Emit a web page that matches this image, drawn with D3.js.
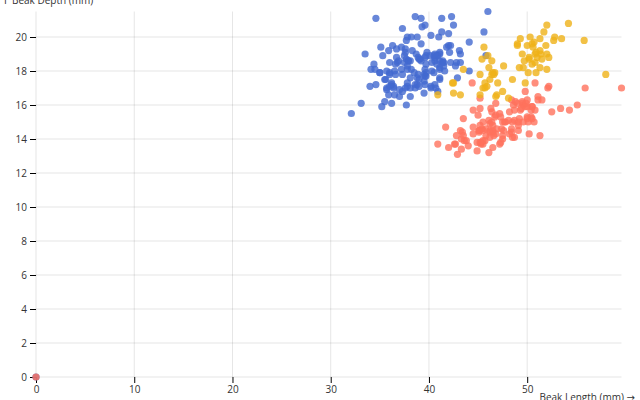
<!DOCTYPE html>
<html>
<head>
<meta charset="utf-8">
<script src="https://cdn.jsdelivr.net/npm/d3@7"></script>
<style>
  body { margin: 0; background: #fff; }
  svg { font-family: "Open Sans", "Noto Sans", "DejaVu Sans", sans-serif; font-size: 10px; }
</style>
</head>
<body>
<div id="chart"></div>
<script>
// species, in the order they are drawn
var species = ["Adelie", "Gentoo", "Chinstrap"];
var speciesColors = ["#4269d0", "#ff725c", "#efb118"];

// missing measurements show up at 0
var adelieLength = [39.1,39.5,40.3,0,36.7,39.3,38.9,39.2,34.1,42.0,37.8,37.8,41.1,38.6,34.6,36.6,38.7,42.5,34.4,46.0,
  37.8,37.7,35.9,38.2,38.8,35.3,40.6,40.5,37.9,40.5,39.5,37.2,39.5,40.9,36.4,39.2,38.8,42.2,37.6,39.8,
  36.5,40.8,36.0,44.1,37.0,39.6,41.1,37.5,36.0,42.3,39.6,40.1,35.0,42.0,34.5,41.4,39.0,40.6,36.5,37.6,
  35.7,41.3,37.6,41.1,36.4,41.6,35.5,41.1,35.9,41.8,33.5,39.7,39.6,45.8,35.5,42.8,40.9,37.2,36.2,42.1,
  34.6,42.9,36.7,35.1,37.3,41.3,36.3,36.9,38.3,38.9,35.7,41.1,34.0,39.6,36.2,40.8,38.1,40.3,33.1,43.2,
  35.0,41.0,37.7,37.8,37.9,39.7,38.6,38.2,38.1,43.2,38.1,45.6,39.7,42.2,39.6,42.7,38.6,37.3,35.7,41.1,
  36.2,37.7,40.2,41.4,35.2,40.6,38.8,41.5,39.0,44.1,38.5,43.1,36.8,37.5,38.1,41.1,35.6,40.2,37.0,39.7,
  40.2,40.6,32.1,40.7,37.3,39.0,39.2,36.6,36.0,37.8,36.0,41.5];
var adelieDepth = [18.7,17.4,18.0,0,19.3,20.6,17.8,19.6,18.1,20.2,17.1,17.3,17.6,21.2,21.1,17.8,19.0,20.7,18.4,21.5,
  18.3,18.7,19.2,18.1,17.2,18.9,18.6,17.9,18.6,18.9,16.7,18.1,17.8,18.9,17.0,21.1,20.0,18.5,19.3,19.1,
  18.0,18.4,18.5,19.7,16.9,18.8,19.0,18.9,17.9,21.2,17.7,18.9,17.9,19.5,18.1,18.6,17.5,18.8,16.6,19.1,
  16.9,21.1,17.0,18.2,17.1,18.0,16.2,19.1,16.6,19.4,19.0,18.4,17.2,18.9,17.5,18.5,16.8,19.4,16.1,19.1,
  17.2,17.6,18.8,19.4,17.8,20.3,19.5,18.6,19.2,18.8,18.0,18.1,17.1,18.1,17.3,18.9,18.6,18.5,16.1,18.5,
  17.9,20.0,16.0,20.0,18.6,18.9,17.2,20.0,17.0,19.0,16.5,20.3,17.7,19.5,20.7,18.3,17.0,20.5,17.0,18.6,
  17.2,19.8,17.0,18.5,15.9,19.0,17.6,18.3,17.1,18.0,17.9,19.2,18.5,18.5,17.6,17.5,17.5,20.1,16.5,17.9,
  17.1,17.2,15.5,17.0,16.8,18.7,18.6,18.4,17.8,18.1,17.1,18.5];

var gentooLength = [46.1,50.0,48.7,50.0,47.6,46.5,45.4,46.7,43.3,46.8,40.9,49.0,45.5,48.4,45.8,49.3,42.0,49.2,46.2,48.7,
  50.2,45.1,46.5,46.3,42.9,46.1,44.5,47.8,48.2,50.0,47.3,42.8,45.1,59.6,49.1,48.4,42.6,44.4,44.0,48.7,
  42.7,49.6,45.3,49.6,50.5,43.6,45.5,50.5,44.9,45.2,46.6,48.5,45.1,50.1,46.5,45.0,43.8,45.5,43.2,50.4,
  45.3,46.2,45.7,54.3,45.8,49.8,46.2,49.5,43.5,50.7,47.7,46.4,48.2,46.5,46.4,48.6,47.5,51.1,45.2,45.2,
  49.1,52.5,47.4,50.0,44.9,50.8,43.4,51.3,47.5,52.1,47.5,52.2,45.5,49.5,44.5,50.8,49.4,46.9,48.4,51.1,
  48.5,55.9,47.2,49.1,47.3,46.8,41.7,53.4,43.3,48.1,50.5,49.8,43.5,51.5,46.2,55.1,44.5,48.8,47.2,0,
  46.8,50.4,45.2,49.9];
var gentooDepth = [13.2,16.3,14.1,15.2,14.5,13.5,14.6,15.3,13.4,15.4,13.7,16.1,13.7,14.6,14.6,15.7,13.5,15.2,14.5,15.1,
  14.3,14.5,14.5,15.8,13.1,15.1,14.3,15.0,14.3,15.3,15.3,14.2,14.5,17.0,14.8,16.3,13.7,17.3,13.6,15.7,
  13.7,16.0,13.7,15.0,15.9,13.9,13.9,15.9,13.3,15.8,14.2,14.1,14.4,15.0,14.4,15.4,13.9,15.0,14.5,15.3,
  13.8,14.9,13.9,15.7,14.2,16.8,14.4,16.2,14.2,15.0,15.0,15.6,15.6,14.8,15.0,16.0,14.2,16.3,13.8,16.4,
  14.5,15.6,14.6,15.9,13.8,17.3,14.4,14.2,14.0,17.0,15.0,17.1,14.5,16.1,14.7,15.7,15.8,14.6,14.4,16.5,
  15.0,17.0,15.5,15.0,13.8,16.1,14.7,15.8,14.0,15.1,15.2,15.9,15.2,16.3,14.1,16.0,15.7,16.2,13.7,0,
  14.3,15.7,14.8,16.1];

var chinstrapLength = [46.5,50.0,51.3,45.4,52.7,45.2,46.1,51.3,46.0,51.3,46.6,51.7,47.0,52.0,45.9,50.5,50.3,58.0,46.4,49.2,
  42.4,48.5,43.2,50.6,46.7,52.0,50.5,49.5,46.4,52.8,40.9,54.2,42.5,51.0,49.7,47.5,47.6,52.0,46.9,53.5,
  49.0,46.2,50.9,45.5,50.9,50.8,50.1,49.0,51.5,49.8,48.1,51.4,45.7,50.7,42.5,52.2,45.2,49.3,50.2,45.6,
  51.9,46.8,45.7,55.8,43.5,49.6,50.8,50.2];
var chinstrapDepth = [17.9,19.5,19.2,18.7,19.8,17.8,18.2,18.2,18.9,19.9,17.8,20.3,17.3,18.1,17.1,19.6,20.0,17.8,18.6,18.2,
  17.3,17.5,16.6,19.4,17.9,19.0,18.4,19.0,17.8,20.0,16.6,20.8,16.7,18.8,18.6,16.8,18.3,20.7,16.6,19.9,
  19.5,17.5,19.1,17.0,17.9,18.5,17.9,19.6,18.7,17.3,16.4,19.0,17.3,19.7,17.3,18.8,16.6,19.9,18.8,19.4,
  19.5,16.5,17.0,19.8,18.1,18.2,19.0,18.7];

var xTicks = [0, 10, 20, 30, 40, 50];
var yTicks = [0, 2, 4, 6, 8, 10, 12, 14, 16, 18, 20];

var width = 640, height = 400;
var marginLeft = 36, marginRight = 18.5, marginTop = 11.5, marginBottom = 23;

var lengths = [adelieLength, gentooLength, chinstrapLength];
var depths = [adelieDepth, gentooDepth, chinstrapDepth];

var points = [];
species.forEach(function(s, i) {
  lengths[i].forEach(function(v, j) {
    points.push({ species: s, length: v, depth: depths[i][j] });
  });
});

var x = d3.scaleLinear()
  .domain([0, d3.max(points, function(d) { return d.length; })])
  .range([marginLeft, width - marginRight]);

var y = d3.scaleLinear()
  .domain([0, d3.max(points, function(d) { return d.depth; })])
  .range([height - marginBottom, marginTop]);

var color = d3.scaleOrdinal().domain(species).range(speciesColors);

var svg = d3.select("#chart")
  .append("svg")
  .attr("width", width)
  .attr("height", height);

// grid
svg.append("g")
  .selectAll("line")
  .data(xTicks)
  .enter()
  .append("line")
    .attr("x1", function(d) { return x(d); })
    .attr("x2", function(d) { return x(d); })
    .attr("y1", marginTop)
    .attr("y2", height - marginBottom)
    .attr("stroke", "#000")
    .attr("stroke-opacity", 0.1);

svg.append("g")
  .selectAll("line")
  .data(yTicks)
  .enter()
  .append("line")
    .attr("x1", marginLeft)
    .attr("x2", width - marginRight)
    .attr("y1", function(d) { return y(d); })
    .attr("y2", function(d) { return y(d); })
    .attr("stroke", "#000")
    .attr("stroke-opacity", 0.1);

// axes
var xAxis = svg.append("g")
  .attr("transform", "translate(0," + (height - marginBottom) + ")")
  .call(d3.axisBottom(x).tickValues(xTicks).tickSize(6).tickPadding(3));
xAxis.select(".domain").remove();

var yAxis = svg.append("g")
  .attr("transform", "translate(" + marginLeft + ",0)")
  .call(d3.axisLeft(y).tickValues(yTicks).tickSize(6).tickPadding(3));
yAxis.select(".domain").remove();

svg.selectAll(".tick text")
  .attr("fill", "#333")
  .style("font-family", "'Open Sans', 'Noto Sans', sans-serif")
  .style("font-size", "10px");

// axis labels sit partly outside the picture, as in the original
svg.append("text")
  .attr("x", 1)
  .attr("y", 3.5)
  .attr("fill", "#333")
  .text("↑ Beak Depth (mm)");

svg.append("text")
  .attr("x", 635)
  .attr("y", 401)
  .attr("text-anchor", "end")
  .attr("fill", "#333")
  .text("Beak Length (mm) →");

// dots
svg.append("g")
  .selectAll("circle")
  .data(points)
  .enter()
  .append("circle")
    .attr("cx", function(d) { return x(d.length); })
    .attr("cy", function(d) { return y(d.depth); })
    .attr("r", 3.6)
    .attr("fill", function(d) { return color(d.species); })
    .attr("fill-opacity", 0.8);
</script>
</body>
</html>
